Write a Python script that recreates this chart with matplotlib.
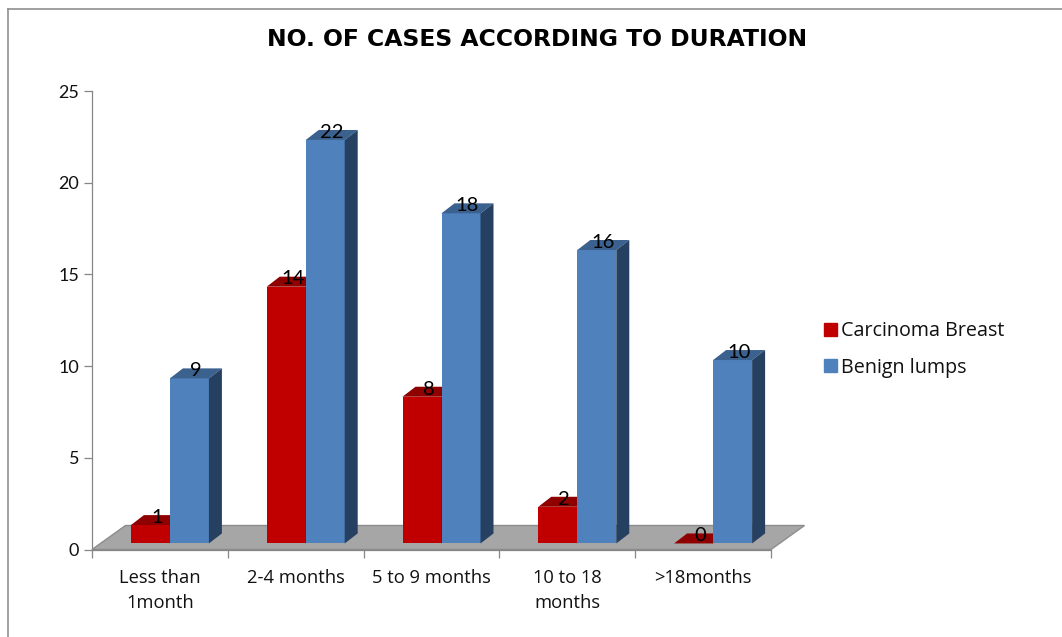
import matplotlib
matplotlib.use('Agg')
import matplotlib.pyplot as plt
from matplotlib.patches import Patch, Polygon

categories = ['Less than\n1month', '2-4 months', '5 to 9 months', '10 to 18\nmonths', '>18months']
carcinoma = [1, 14, 8, 2, 0]
benign = [9, 22, 18, 16, 10]
y_ticks = [0, 5, 10, 15, 20, 25]

plt.rcParams['font.family'] = ['Open Sans', 'DejaVu Sans']

fig = plt.figure(figsize=(10.62, 6.37), dpi=100)
ax = fig.add_axes([92 / 1062, 87.5 / 637, 679 / 1062, 458.5 / 637])
ax.set_xlim(0, 5)
ax.set_ylim(0, 25)

# profundidade do efeito 3D, em unidades dos dados
dx = 13 / 135.8
dy = 10 / 18.34
base = 0.33
width = 39 / 135.8
shift = 10 / 135.8


def draw_bar(x, value, front, top, side, z):
    ax.bar(x, value, width, bottom=base, color=front, align='edge', zorder=z, clip_on=False)
    y1 = base + value
    ax.add_patch(Polygon([(x, y1), (x + width, y1), (x + width + dx, y1 + dy), (x + dx, y1 + dy)],
                         color=top, lw=0, zorder=z, clip_on=False))
    ax.add_patch(Polygon([(x + width, base), (x + width + dx, base + dy), (x + width + dx, y1 + dy), (x + width, y1)],
                         color=side, lw=0, zorder=z, clip_on=False))
    ax.text(x + width / 2 + dx / 2, y1 + 0.42, str(value), ha='center', va='center',
            fontsize=14.5, family=['Lato', 'DejaVu Sans'], color='black', zorder=10)


# chao do grafico
floor_dx = 33.5 / 135.8
floor_dy = 24 / 18.34
ax.add_patch(Polygon([(0, 0), (5, 0), (5 + floor_dx, floor_dy), (floor_dx, floor_dy)],
                     facecolor='#a6a6a6', edgecolor='#8c8c8c', lw=1, zorder=1, clip_on=False))

for i in range(len(categories)):
    left = i + 0.5 + shift - width
    draw_bar(left, carcinoma[i], '#c00000', '#8f0000', '#8f0000', 2)
    draw_bar(left + width, benign[i], '#4f81bd', '#3b618e', '#254061', 3)

ax.set_yticks(y_ticks)
ax.set_xticks(range(6))
ax.set_xticklabels([])
ax.set_xticks([i + 0.5 for i in range(5)], minor=True)
ax.set_xticklabels(categories, minor=True, fontsize=13.2, color='#111111', linespacing=1.5)
ax.tick_params(axis='x', which='major', length=5.8, color='#868686', width=0.9)
ax.tick_params(axis='x', which='minor', length=0, pad=14)
ax.tick_params(axis='y', length=5.8, color='#868686', width=0.9, labelsize=13, labelcolor='#111111', pad=3.5)
for label in ax.get_yticklabels():
    label.set_fontfamily(['Lato', 'DejaVu Sans'])
for name in ['top', 'right']:
    ax.spines[name].set_visible(False)
for name in ['left', 'bottom']:
    ax.spines[name].set_color('#868686')
    ax.spines[name].set_linewidth(0.9)
    ax.spines[name].set_zorder(5)

fig.text(537 / 1062, 1 - 40 / 637, 'NO. OF CASES ACCORDING TO DURATION', ha='center', va='center',
         fontsize=16.9, fontweight='bold', family='DejaVu Sans', color='black')

handles = [Patch(color='#c00000', label='Carcinoma Breast'), Patch(color='#4f81bd', label='Benign lumps')]
fig.legend(handles=handles, loc='upper left', bbox_to_anchor=(816.5 / 1062, 1 - 313.5 / 637), frameon=False,
           fontsize=14.2, handlelength=0.66, handleheight=0.66, handletextpad=0.2, labelspacing=0.83,
           borderpad=0.4, borderaxespad=0, labelcolor='#111111')

fig.add_artist(plt.Line2D([7.5 / 1062, 7.5 / 1062], [0, 1 - 9 / 637], color='#909090', lw=1.2))
fig.add_artist(plt.Line2D([7.5 / 1062, 1], [1 - 9 / 637, 1 - 9 / 637], color='#909090', lw=1.2))

plt.savefig('out.png', dpi=100)
